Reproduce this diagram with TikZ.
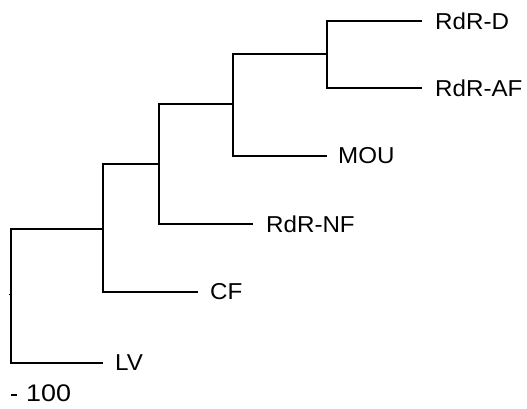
\documentclass[tikz,border=0pt]{standalone}
\usepackage{fontspec}
\setmainfont[FakeStretch=1.05]{Liberation Sans}
\begin{document}
\begin{tikzpicture}[x=1pt,y=-1pt,
  branch/.style={line width=1.6pt},
  lab/.style={anchor=west,inner sep=0pt,font=\fontsize{23}{25}\selectfont}]
\useasboundingbox (0,0) rectangle (527,408);
% internal nodes
\coordinate (root) at (11,294);
\coordinate (A) at (103,229);
\coordinate (B) at (159,164);
\coordinate (C) at (233,104);
\coordinate (D) at (327,54);
% leaf ends
\coordinate (eD) at (422,21);
\coordinate (eAF) at (422,88);
\coordinate (eMOU) at (327,156);
\coordinate (eNF) at (253,224);
\coordinate (eCF) at (198,292);
\coordinate (eLV) at (103,363);
% branches
\draw[branch] (root) |- (A);
\draw[branch] (root) |- (eLV);
\draw[branch] (A) |- (B);
\draw[branch] (A) |- (eCF);
\draw[branch] (B) |- (C);
\draw[branch] (B) |- (eNF);
\draw[branch] (C) |- (D);
\draw[branch] (C) |- (eMOU);
\draw[branch] (D) |- (eD);
\draw[branch] (D) |- (eAF);
\draw[line width=1pt] (root) -- ++(-2,0);
% labels
\node[lab] (lD) at ([xshift=13pt]eD) {RdR-D};
\node[lab] (lAF) at ([xshift=13pt]eAF) {RdR-AF};
\node[lab] (lMOU) at ([xshift=11pt]eMOU) {MOU};
\node[lab] (lNF) at ([xshift=13pt]eNF) {RdR-NF};
\node[lab] (lCF) at ([xshift=12pt]eCF) {CF};
\node[lab] (lLV) at ([xshift=12pt]eLV) {LV};
% scale bar
\coordinate (s1) at (11,395);
\coordinate (s2) at (17,395);
\draw[line width=1.2pt] (s1) -- (s2);
\node[lab,font=\fontsize{24}{25}\selectfont\addfontfeatures{FakeStretch=1.12}] (scale) at (26,393) {100};
\end{tikzpicture}
\end{document}
